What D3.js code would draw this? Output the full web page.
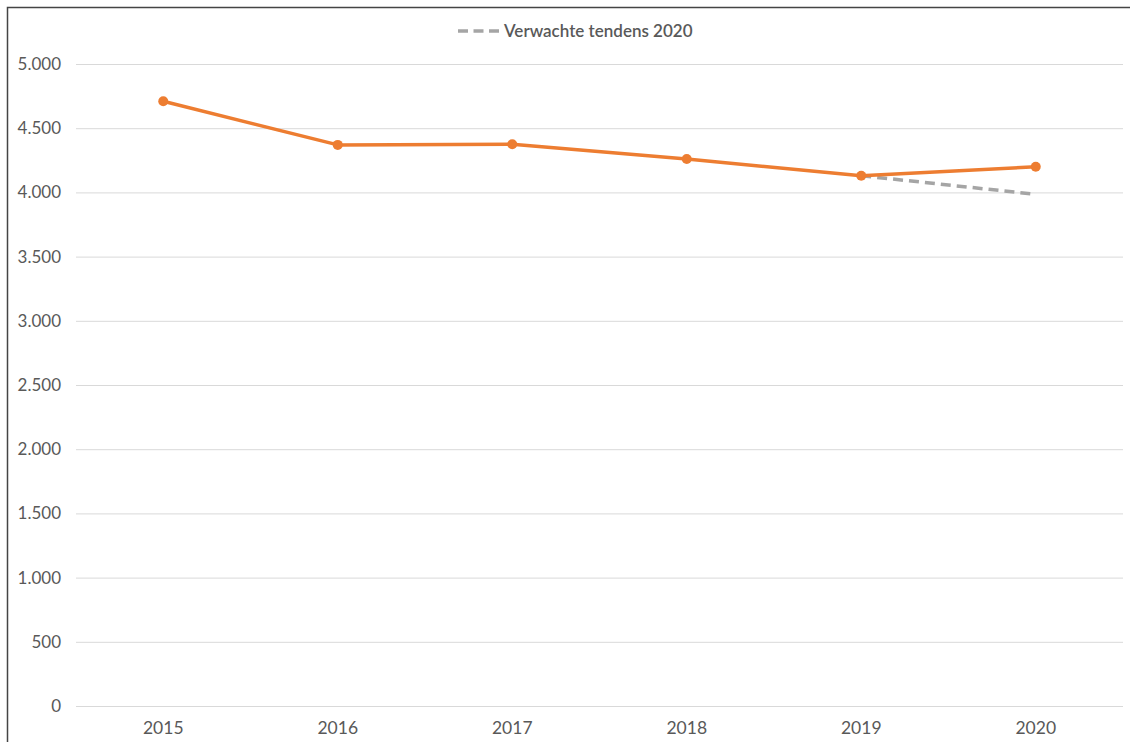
<!DOCTYPE html>
<html>
<head>
<meta charset="utf-8">
<script src="https://cdn.jsdelivr.net/npm/d3@7"></script>
<style>
html,body{margin:0;padding:0;background:#fff;}
svg{display:block;font-family:Lato, "Open Sans", sans-serif;}
</style>
</head>
<body>
<svg id="chart" width="1130" height="742"></svg>
<script>
const years = ["2015","2016","2017","2018","2019","2020"];
const values = [4710, 4370, 4375, 4260, 4130, 4200];
const trendYears = ["2019","2020"];
const trendValues = [4130, 3985];
const yTicks = [0,500,1000,1500,2000,2500,3000,3500,4000,4500,5000];
const legendLabel = "Verwachte tendens 2020";

const svg = d3.select("#chart");
const W = 1130, H = 742;
const m = {left:76, right:7, top:64, bottom:36};

// outer border (left & top)
svg.append("path").attr("d", `M7.5,${H} L7.5,7.5 L${W},7.5`)
  .attr("fill","none").attr("stroke","#444").attr("stroke-width",1.5);

const x = d3.scaleBand().domain(years).range([m.left, W - m.right]);
const y = d3.scaleLinear().domain([0,5000]).range([H - m.bottom, m.top]);

const fmt = v => d3.format(",")(v).replace(/,/g,".");

// gridlines + y labels
const yAxis = d3.axisLeft(y).tickValues(yTicks).tickSize(-(W - m.right - m.left)).tickFormat(fmt).tickPadding(15);
const gy = svg.append("g").attr("transform", `translate(${m.left},0)`).call(yAxis);
gy.select(".domain").remove();
gy.selectAll(".tick line").attr("stroke","#d9d9d9").attr("stroke-width",1);
gy.selectAll(".tick text").attr("fill","#595959").attr("font-size",17).attr("font-family","Lato");

// x labels
const xAxis = d3.axisBottom(x).tickSize(0).tickPadding(16);
const gx = svg.append("g").attr("transform", `translate(0,${H - m.bottom})`).call(xAxis);
gx.select(".domain").remove();
gx.selectAll(".tick text").attr("fill","#595959").attr("font-size",17.5).attr("font-family","Lato");

const cx = d => x(d) + x.bandwidth()/2;

// trend dashed line
const trend = trendYears.map((d,i)=>({k:d,v:trendValues[i]}));
svg.append("path").datum(trend)
  .attr("d", d3.line().x(d=>cx(d.k)).y(d=>y(d.v)))
  .attr("fill","none").attr("stroke","#A5A5A5").attr("stroke-width",3.5)
  .attr("stroke-dasharray","10,6");

// main line
const data = years.map((d,i)=>({k:d,v:values[i]}));
svg.append("path").datum(data)
  .attr("d", d3.line().x(d=>cx(d.k)).y(d=>y(d.v)))
  .attr("fill","none").attr("stroke","#ED7D31").attr("stroke-width",3.5)
  .attr("stroke-linejoin","round");
svg.selectAll(".pt").data(data).enter().append("circle")
  .attr("cx", d=>cx(d.k)).attr("cy", d=>y(d.v)).attr("r",5)
  .attr("fill","#ED7D31");

// legend
const lg = svg.append("g");
lg.append("line").attr("x1",458).attr("x2",499).attr("y1",31).attr("y2",31)
  .attr("stroke","#A5A5A5").attr("stroke-width",3.5).attr("stroke-dasharray","10,5.5");
lg.append("text").attr("x",504).attr("y",37).text(legendLabel)
  .attr("fill","#595959").attr("font-size",17).attr("font-weight",600).attr("font-family","Lato");
</script>
</body>
</html>
